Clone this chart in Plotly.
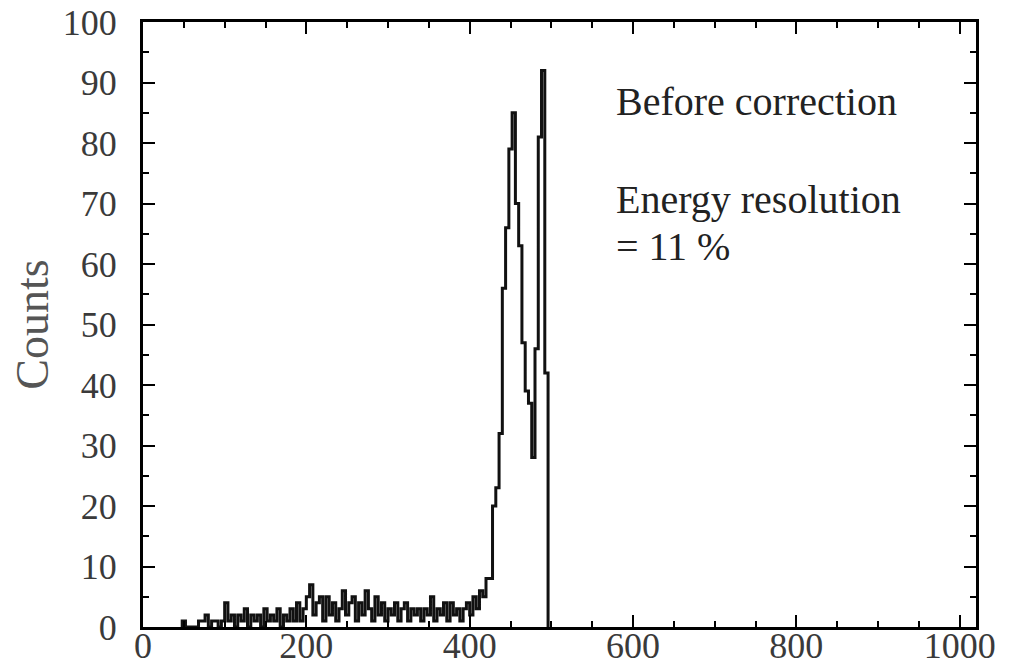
import numpy as np
import plotly.graph_objects as go

# Histogram binning (channels)
first_edge = 48
bin_width = 4

# Counts per bin, starting at channel 48
counts = [
    1, 0, 0, 0, 0, 1, 1, 2, 0, 1, 1, 0, 1, 4, 1, 2,
    0, 2, 1, 3, 0, 2, 1, 2, 0, 3, 1, 2, 1, 3, 0, 2,
    1, 3, 1, 4, 1, 3, 5, 7, 2, 4, 5, 1, 5, 2, 4, 1,
    3, 6, 2, 4, 5, 1, 4, 2, 6, 3, 1, 5, 2, 4, 1, 3,
    2, 4, 1, 3, 4, 1, 3, 2, 3, 1, 3, 2, 5, 1, 3, 2,
    4, 1, 4, 2, 3, 1, 3, 4, 2, 5, 3, 6, 5, 8, 8, 20,
    23, 32, 56, 66, 79, 85, 70, 63, 47, 39, 37, 28, 46, 81, 92, 42,
]

x_ticks = [0, 200, 400, 600, 800, 1000]
y_ticks = [0, 10, 20, 30, 40, 50, 60, 70, 80, 90, 100]

label_before = "Before correction"
label_res = "Energy resolution"
label_val = "= 11 %"

# Step outline of the histogram
edges = first_edge + bin_width * np.arange(len(counts) + 1)
xs = np.concatenate([[edges[0]], edges])
ys = np.concatenate([[0], counts, [0]])

serif = "Liberation Serif, Times New Roman, serif"

fig = go.Figure(
    go.Scatter(
        x=xs, y=ys, mode="lines", line=dict(shape="hv", color="#111111", width=3),
        hoverinfo="skip", showlegend=False,
    )
)

axis_common = dict(
    showgrid=False, zeroline=False, showline=True, linecolor="black", linewidth=3,
    mirror="allticks", ticks="inside", ticklen=12, tickwidth=2, tickcolor="black",
    automargin=False,
)

fig.update_xaxes(
    range=[0, 1020], tickvals=x_ticks, ticktext=[str(v) for v in x_ticks],
    minor=dict(ticks="inside", dtick=50, ticklen=6, tickwidth=2, tickcolor="black"),
    tickfont=dict(family=serif, size=36, color="#3a3a3a"),
    ticklabelstandoff=-15,
    **axis_common,
)
fig.update_yaxes(
    range=[0, 100], tickvals=y_ticks, ticktext=[str(v) for v in y_ticks],
    minor=dict(ticks="inside", dtick=5, ticklen=6, tickwidth=2, tickcolor="black"),
    tickfont=dict(family=serif, size=36, color="#3a3a3a"),
    ticklabelstandoff=16,
    title=dict(text="Counts", font=dict(family=serif, size=46, color="#555555"), standoff=0),
    **axis_common,
)

text_font = dict(family=serif, size=40, color="#222222")
for txt, ypos in [(label_before, 0.868), (label_res, 0.706), (label_val, 0.629)]:
    fig.add_annotation(
        text=txt, xref="paper", yref="paper", x=0.566, y=ypos,
        xanchor="left", yanchor="middle", showarrow=False, font=text_font,
    )

fig.update_layout(
    width=1012, height=672,
    margin=dict(l=143, r=36, t=22, b=45),
    paper_bgcolor="white", plot_bgcolor="white",
)

fig.write_html("out.html")
